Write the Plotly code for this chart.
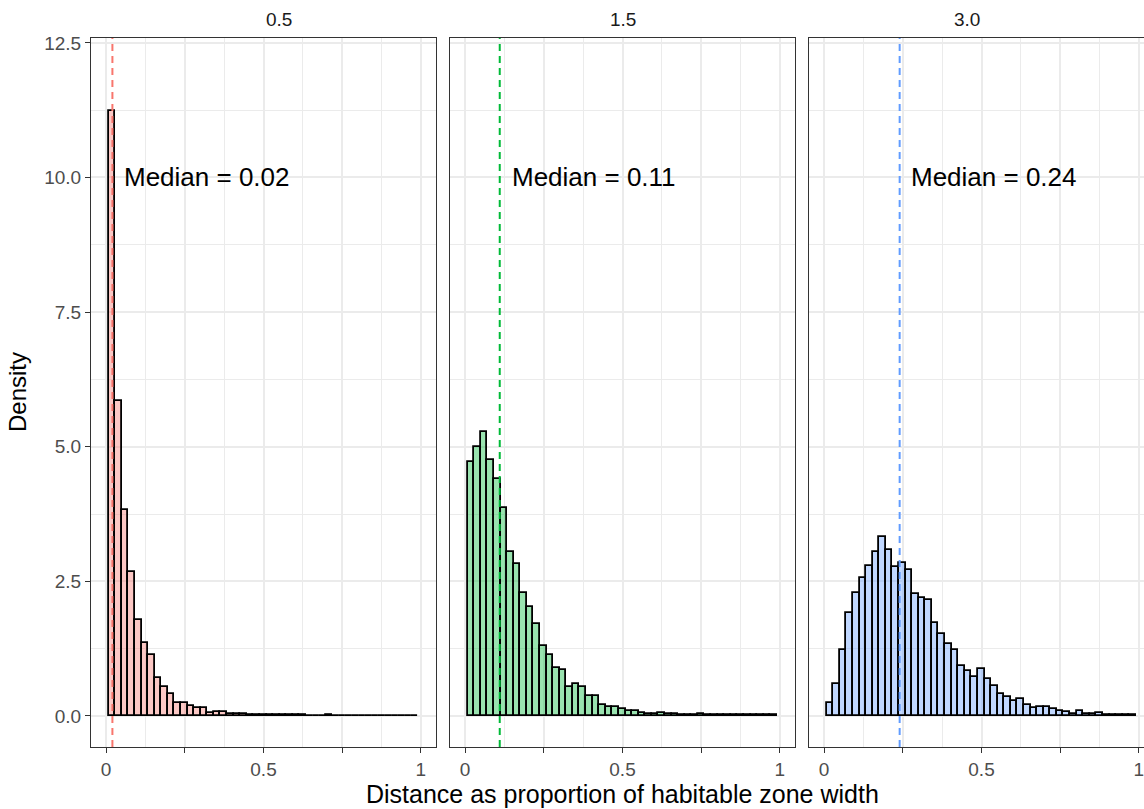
import plotly.graph_objects as go

# ---------------- data ----------------
facet_labels = ["0.5", "1.5", "3.0"]
medians = [0.02, 0.11, 0.24]
median_labels = ["Median = 0.02", "Median = 0.11", "Median = 0.24"]

bin_start = 0.008
bin_width = 0.0209
n_bins = 47

density_05 = [11.23, 5.84, 3.82, 2.68, 1.79, 1.35, 1.13, 0.70, 0.53, 0.41,
              0.235, 0.235, 0.19, 0.15, 0.15, 0.05, 0.07, 0.07, 0.04, 0.04,
              0.04, 0.02, 0.02, 0.015, 0.015, 0.01, 0.01, 0.01, 0.01, 0.01,
              0.005, 0.005, 0.005, 0.01, 0.005, 0.005, 0.005, 0.005, 0.005, 0.005,
              0.005, 0.005, 0.005, 0.005, 0.005, 0.005, 0.005]
density_15 = [4.71, 5.00, 5.27, 4.76, 4.41, 3.86, 3.05, 2.83, 2.29, 2.02,
              1.70, 1.30, 1.13, 0.90, 0.85, 0.54, 0.59, 0.54, 0.37, 0.37,
              0.21, 0.16, 0.16, 0.13, 0.09, 0.09, 0.06, 0.04, 0.04, 0.05,
              0.04, 0.03, 0.02, 0.02, 0.015, 0.03, 0.015, 0.02, 0.02, 0.01,
              0.01, 0.01, 0.01, 0.01, 0.01, 0.01, 0.01]
density_30 = [0.25, 0.60, 1.23, 1.91, 2.28, 2.56, 2.78, 3.04, 3.32, 3.08,
              2.77, 2.85, 2.72, 2.26, 2.19, 2.15, 1.72, 1.53, 1.34, 1.22,
              0.93, 0.84, 0.72, 0.88, 0.68, 0.56, 0.41, 0.35, 0.27, 0.32,
              0.20, 0.15, 0.17, 0.17, 0.13, 0.09, 0.07, 0.03, 0.09, 0.04,
              0.04, 0.06, 0.025, 0.02, 0.025, 0.02, 0.01]
densities = [density_05, density_15, density_30]

x_tickvals = [0, 0.25, 0.5, 0.75, 1]
x_ticktext = ["0", "", "0.5", "", "1"]
y_tickvals = [0, 2.5, 5, 7.5, 10, 12.5]
y_ticktext = ["0.0", "2.5", "5.0", "7.5", "10.0", "12.5"]

line_colors = ["#F8766D", "#00BA38", "#619CFF"]
fill_colors = ["rgba(248,118,109,0.4)", "rgba(0,186,56,0.4)", "rgba(97,156,255,0.4)"]

# ---------------- layout geometry ----------------
W, H = 1144, 809
ml, mr, mt, mb = 91, 0, 38, 62
plot_w = W - ml - mr
panel_px = 345
gap_px = 14
x_lo, x_hi = -0.048, 1.048
units_per_px = (x_hi - x_lo) / panel_px
y_range = [-0.576, 12.59]

FONT = "Liberation Sans, Arial, Helvetica, sans-serif"
GRID = "#EBEBEB"
BORDER = "#333333"

fig = go.Figure()
centers = [bin_start + bin_width * (i + 0.5) for i in range(n_bins)]

for k in range(3):
    xa = "x" if k == 0 else f"x{k+1}"
    ya = "y" if k == 0 else f"y{k+1}"
    fig.add_trace(go.Bar(
        x=centers, y=densities[k], width=bin_width,
        marker=dict(color=fill_colors[k], line=dict(color="black", width=1.8)),
        xaxis=xa, yaxis=ya, showlegend=False, hoverinfo="x+y"))
    fig.add_shape(type="line", xref=xa, yref=f"{ya} domain",
                  x0=medians[k], x1=medians[k], y0=0, y1=1,
                  line=dict(color=line_colors[k], width=2, dash="7px,5px"),
                  layer="above")
    fig.add_annotation(x=medians[k] + 0.3, y=10, xref=xa, yref=ya,
                       text=median_labels[k], showarrow=False,
                       font=dict(family=FONT, size=26, color="black"))

    left_px = k * (panel_px + gap_px)
    right_px = min(left_px + panel_px, plot_w)
    dom = [left_px / plot_w, right_px / plot_w]
    xr = [x_lo, x_lo + (right_px - left_px) * units_per_px]
    xkey = "xaxis" if k == 0 else f"xaxis{k+1}"
    ykey = "yaxis" if k == 0 else f"yaxis{k+1}"
    fig.update_layout(**{
        xkey: dict(domain=dom, range=xr, anchor=ya,
                   tickvals=x_tickvals, ticktext=x_ticktext,
                   ticks="outside", ticklen=5, tickcolor=BORDER, tickwidth=1,
                   tickfont=dict(family=FONT, size=19, color="#4D4D4D"),
                   ticklabeloverflow="allow",
                   showgrid=True, gridcolor=GRID, gridwidth=1.7,
                   minor=dict(dtick=0.125, tick0=0, showgrid=True,
                              gridcolor=GRID, gridwidth=1.0, ticks=""),
                   showline=True, mirror=True, linecolor=BORDER, linewidth=1,
                   zeroline=False),
        ykey: dict(domain=[0, 1], range=y_range, anchor=xa,
                   tickvals=y_tickvals, ticktext=y_ticktext,
                   showticklabels=(k == 0),
                   ticks="outside" if k == 0 else "", ticklen=5,
                   tickcolor=BORDER, tickwidth=1,
                   tickfont=dict(family=FONT, size=19, color="#4D4D4D"),
                   showgrid=True, gridcolor=GRID, gridwidth=1.7,
                   minor=dict(dtick=1.25, tick0=0, showgrid=True,
                              gridcolor=GRID, gridwidth=1.0, ticks=""),
                   showline=True, mirror=(k < 2), linecolor=BORDER, linewidth=1,
                   zeroline=False),
    })
    # strip label centred on the full (uncropped) panel width
    center_px = left_px + panel_px / 2
    fig.add_annotation(x=center_px / plot_w, y=1, xref="paper", yref="paper",
                       yanchor="bottom", yshift=6, text=facet_labels[k],
                       showarrow=False,
                       font=dict(family=FONT, size=19, color="#1A1A1A"))

full_w = 3 * panel_px + 2 * gap_px
fig.add_annotation(x=(full_w / 2) / plot_w, y=0, xref="paper", yref="paper",
                   yanchor="top", yshift=-31,
                   text="Distance as proportion of habitable zone width",
                   showarrow=False, font=dict(family=FONT, size=25, color="black"))
fig.add_annotation(x=0, y=0.5, xref="paper", yref="paper",
                   xanchor="right", xshift=-58, textangle=-90,
                   text="Density", showarrow=False,
                   font=dict(family=FONT, size=24, color="black"))

fig.update_layout(width=W, height=H, margin=dict(l=ml, r=mr, t=mt, b=mb),
                  paper_bgcolor="white", plot_bgcolor="white",
                  bargap=0, barmode="overlay", showlegend=False,
                  font=dict(family=FONT))

fig.write_html("out.html")
